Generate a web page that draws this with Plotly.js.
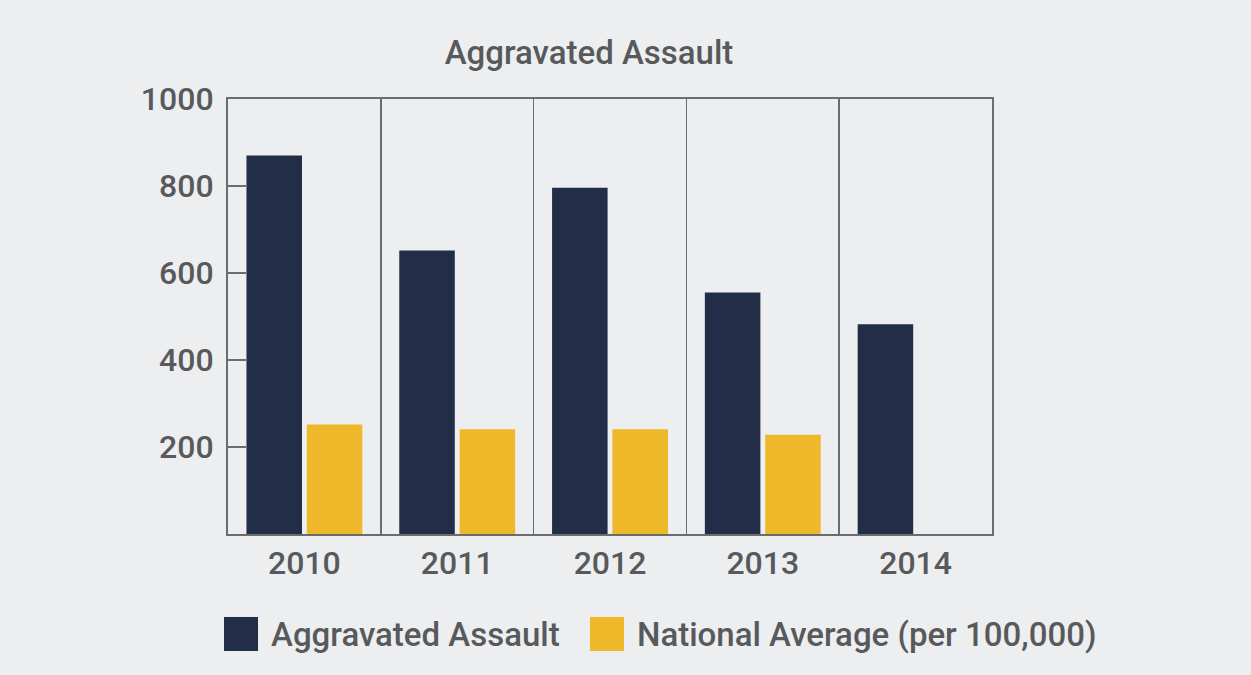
<!DOCTYPE html>
<html><head><meta charset="utf-8">
<script src="https://cdn.plot.ly/plotly-3.0.1.min.js"></script>
<style>html,body{margin:0;padding:0;background:#edeef0;}</style>
</head><body>
<div id="chart" style="width:1251px;height:675px;"></div>
<script>
const years = ['2010', '2011', '2012', '2013', '2014'];
const aggravatedAssault = [870, 652, 796, 555, 482];
const nationalAverage = [252, 241, 241, 228, null];
const seriesNames = ['Aggravated Assault', 'National Average (per 100,000)'];
const seriesColors = ['#222d48', '#efb82a'];
const yTicks = [200, 400, 600, 800, 1000];
const chartTitle = 'Aggravated Assault';

const FONT = 'Roboto, "Noto Sans", sans-serif';
const TXT = '#58595b';
const LINE = '#6b6c6e';

const traces = [
  {type: 'bar', x: years, y: aggravatedAssault, name: seriesNames[0],
   marker: {color: seriesColors[0]}, hoverinfo: 'x+y'},
  {type: 'bar', x: years, y: nationalAverage, name: seriesNames[1],
   marker: {color: seriesColors[1]}, hoverinfo: 'x+y'}
];

// custom legend (large swatches) built from the series arrays
const shapes = [];
const annotations = [];
const legendX = [224, 590];
seriesNames.forEach((n, i) => {
  shapes.push({type: 'rect', xref: 'paper', yref: 'paper',
    x0: (legendX[i] - 228) / 764, x1: (legendX[i] + 34 - 228) / 764,
    y0: (534 - 651) / 435, y1: (534 - 617) / 435,
    fillcolor: seriesColors[i], line: {width: 0}});
  annotations.push({xref: 'paper', yref: 'paper', showarrow: false,
    x: (legendX[i] + 45 - 228) / 764, y: (534 - 634) / 435,
    xanchor: 'left', yanchor: 'middle', text: n,
    font: {family: FONT, size: 33, weight: 500, color: TXT}});
});

const layout = {
  width: 1251, height: 675,
  paper_bgcolor: '#edeef0', plot_bgcolor: '#edeef0',
  margin: {l: 228, r: 259, t: 99, b: 141, pad: 0},
  title: {text: chartTitle, x: 589 / 1251, xref: 'container', xanchor: 'center',
    y: 1 - 52 / 675, yref: 'container', yanchor: 'middle',
    font: {family: FONT, size: 33, weight: 500, color: TXT}},
  showlegend: false,
  barmode: 'group', bargap: 0.21, bargroupgap: 0.08,
  font: {family: FONT, color: TXT},
  xaxis: {type: 'category', tickson: 'boundaries', showgrid: true,
    gridcolor: LINE, gridwidth: 1.5, ticks: '', showline: true, linecolor: LINE,
    linewidth: 2, mirror: true, tickfont: {family: FONT, size: 32, weight: 500, color: TXT},
    zeroline: false, fixedrange: true},
  yaxis: {range: [0, 1000], tickvals: yTicks, ticktext: yTicks.map(String),
    showgrid: false, zeroline: false, ticks: 'inside', ticklen: 18, tickwidth: 2,
    tickcolor: LINE, showline: true, linecolor: LINE, linewidth: 2, mirror: true,
    ticklabelstandoff: 6,
    tickfont: {family: FONT, size: 32, weight: 500, color: TXT}, fixedrange: true},
  shapes: shapes, annotations: annotations
};
Plotly.newPlot('chart', traces, layout, {displayModeBar: false, staticPlot: true});
</script>
</body></html>
